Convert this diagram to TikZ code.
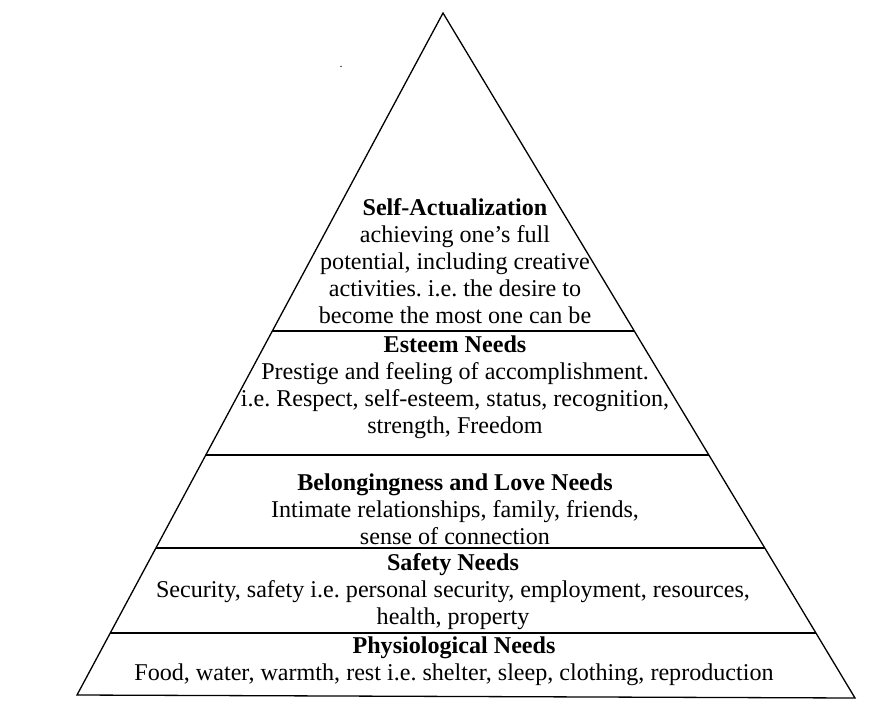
\documentclass[tikz,border=0pt]{standalone}
\usepackage{fontspec}
\setmainfont{Liberation Serif}
\usetikzlibrary{positioning}
\frenchspacing

\tikzset{
  nivel/.style={align=center, inner sep=0pt, font=\fontsize{24.1}{27}\selectfont},
  borde/.style={black, line width=1.3pt}
}

\begin{document}
\begin{tikzpicture}[x=1pt, y=-1pt]
    \useasboundingbox (0,0) rectangle (874,709);

    % piramide
    \draw [borde] (77,695) -- (443,13) -- (855,698) -- cycle;

    % divisiones entre niveles
    \draw [borde] (272.3,331) -- (634.3,331);
    \draw [borde] (205.8,455) -- (708.9,455);
    \draw [borde] (155.9,548) -- (764.8,548);
    \draw [borde] (110.2,633) -- (815.9,633);

    % punto suelto
    \node [inner sep=0pt, font=\fontsize{12}{14}\selectfont] (punto) at (341,67) {.};

    % niveles
    \node [nivel] (autorreal) at (455,261) {\textbf{Self-Actualization}\\achieving one’s full\\potential, including creative\\activities. i.e. the desire to\\become the most one can be};
    \node [nivel] (estima) at (455,387) {\textbf{Esteem Needs}\\Prestige and feeling of accomplishment.\\i.e. Respect, self-esteem, status, recognition,\\strength, Freedom};
    \node [nivel] (afecto) at (455,509) {\textbf{Belongingness and Love Needs}\\Intimate relationships, family, friends,\\sense of connection};
    \node [nivel] (seguridad) at (453,592) {\textbf{Safety Needs}\\Security, safety i.e. personal security, employment, resources,\\health, property};
    \node [nivel] (fisiolog) at (454,661) {\textbf{Physiological Needs}\\Food, water, warmth, rest i.e. shelter, sleep, clothing, reproduction};
\end{tikzpicture}
\end{document}
